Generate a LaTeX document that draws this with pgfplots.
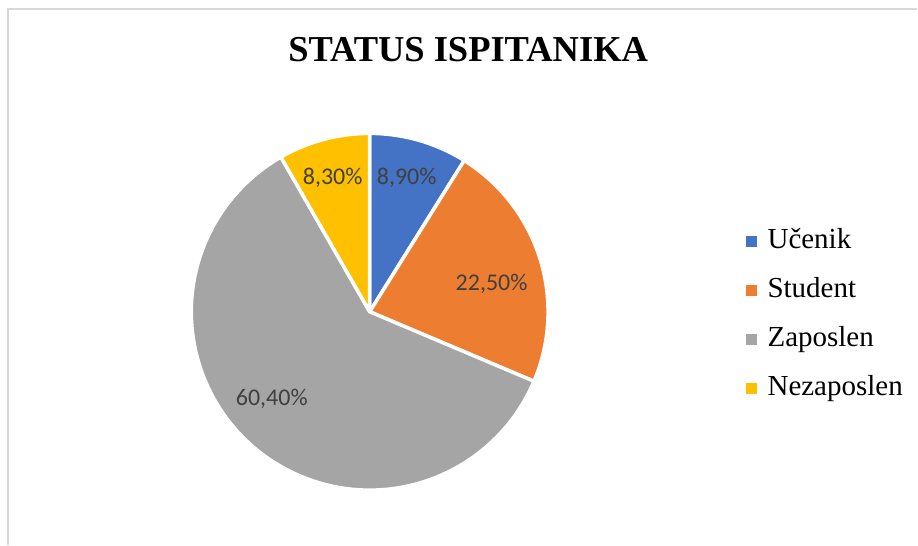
\documentclass[border=0pt]{standalone}
\usepackage{pgfplots}
\pgfplotsset{compat=1.18}
\usepackage{pgfplotstable}
\usepackage{fontspec}
\setmainfont{Liberation Serif}
\newfontfamily\calibri{Carlito}

\definecolor{cUcenik}{HTML}{4472C4}
\definecolor{cStudent}{HTML}{ED7D31}
\definecolor{cZaposlen}{HTML}{A5A5A5}
\definecolor{cNezaposlen}{HTML}{FFC000}
\definecolor{lbl}{HTML}{404040}
\definecolor{frame}{HTML}{D9D9D9}

% share (%), slice colour, label position (px)
\pgfplotstableread{
name value col labx laby
Učenik 8.9 cUcenik 407 178
Student 22.5 cStudent 492 284
Zaposlen 60.4 cZaposlen 272 399
Nezaposlen 8.3 cNezaposlen 333 178
}\piedata

\tikzset{
  lblfont/.style={font=\calibri\fontsize{24}{28}\selectfont, text=lbl, inner sep=0pt},
  legfont/.style={font=\fontsize{29}{33}\selectfont, inner sep=0pt},
}

\begin{document}
\begin{tikzpicture}
\begin{axis}[
    x=1pt, y=1pt,
    xmin=0, xmax=918, ymin=0, ymax=545,
    y dir=reverse,
    hide axis, scale only axis, clip=false,
]
% keep the whole canvas in the bounding box
\path (rel axis cs:0,0) rectangle (rel axis cs:1,1);
% chart frame
\draw[frame, line width=1.5pt] (axis cs:8,545) -- (axis cs:8,9) -- (axis cs:918,9);

\node[font=\bfseries\fontsize{36.5}{40}\selectfont, anchor=base]
    at (axis cs:468.5,62) {STATUS ISPITANIKA};

% total of the shares
\def\total{0}
\pgfplotsforeachungrouped \i in {0,...,3}{%
  \pgfplotstablegetelem{\i}{value}\of\piedata
  \pgfmathsetmacro\total{\total+\pgfplotsretval}%
}

\def\angA{90}
\pgfplotsforeachungrouped \i in {0,...,3}{%
  \pgfplotstablegetelem{\i}{value}\of\piedata \let\val\pgfplotsretval
  \pgfplotstablegetelem{\i}{col}\of\piedata \let\sliceCol\pgfplotsretval
  \pgfplotstablegetelem{\i}{name}\of\piedata \let\sliceName\pgfplotsretval
  \pgfplotstablegetelem{\i}{labx}\of\piedata \let\lx\pgfplotsretval
  \pgfplotstablegetelem{\i}{laby}\of\piedata \let\ly\pgfplotsretval
  \pgfmathsetmacro\angB{\angA-(\val/\total)*360}%
  \pgfmathsetmacro\by{249+49*\i}%
  \pgfmathsetmacro\sqa{\by-13}%
  \pgfmathsetmacro\sqb{\by-2}%
  \edef\temp{%
    \noexpand\fill[\sliceCol, draw=white, line width=3.5pt, line join=round]
      (axis cs:370,312) -- ++(\angA:178.5pt)
      arc[start angle=\angA, end angle=\angB, radius=178.5pt] -- cycle;
    \noexpand\node[lblfont] at (axis cs:\lx,\ly)
      {\noexpand\pgfmathprintnumber[fixed, fixed zerofill, precision=2, use comma, assume math mode=true]{\val}\noexpand\%};
    \noexpand\fill[\sliceCol] (axis cs:747,\sqa) rectangle (axis cs:758,\sqb);
    \noexpand\node[legfont, anchor=base west] at (axis cs:768,\by) {\sliceName};
  }\temp
  \let\angA\angB
}
\end{axis}
\end{tikzpicture}
\end{document}
